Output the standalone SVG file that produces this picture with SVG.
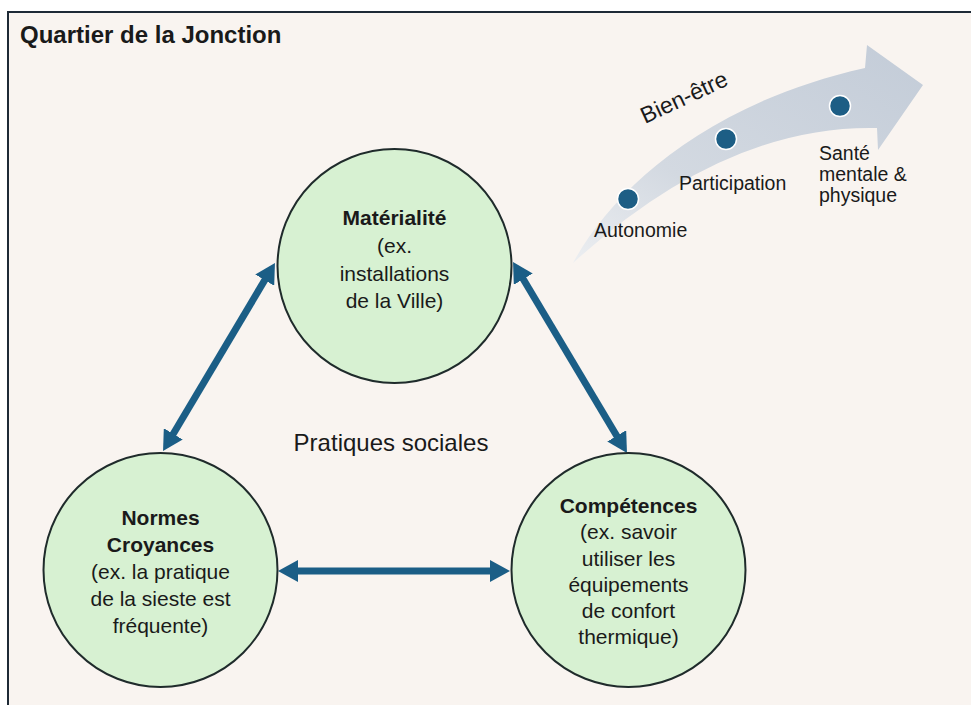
<svg xmlns="http://www.w3.org/2000/svg" width="971" height="705" viewBox="0 0 971 705">
  <style>
    .node { fill: #d7f1d2; stroke: #1f2b2b; stroke-width: 2; }
    .t { font-family: "Liberation Sans", Arial, sans-serif; fill: #1a1a1a; text-anchor: middle; }
    .nt { font-size: 21px; }
    .b { font-weight: bold; }
    .conn { stroke: #1b5e86; stroke-width: 7; fill: none; marker-start: url(#ah); marker-end: url(#ah); }
    .dot { fill: #1d5e85; stroke: #ffffff; stroke-width: 1.5; }
    .st { font-family: "Liberation Sans", Arial, sans-serif; fill: #1a1a1a; font-size: 19.5px; }
  </style>
  <defs>
    <marker id="ah" viewBox="0 0 20 22" markerWidth="20" markerHeight="22" refX="6" refY="11" orient="auto-start-reverse" markerUnits="userSpaceOnUse">
      <path d="M0,0 L20,11 L0,22 z" fill="#1b5e86"/>
    </marker>
    <linearGradient id="band" x1="0" y1="1" x2="1" y2="0">
      <stop offset="0" stop-color="#eceef1"/>
      <stop offset="0.35" stop-color="#d3d9e1"/>
      <stop offset="1" stop-color="#c3ccd8"/>
    </linearGradient>
  </defs>
  <rect x="0" y="0" width="971" height="705" fill="#ffffff"/>
  <rect id="frame" x="8" y="12" width="990" height="730" fill="#f9f4f0" stroke="#1e2a36" stroke-width="2"/>
  <text class="t b" x="20" y="43" style="text-anchor:start;font-size:24px">Quartier de la Jonction</text>

  <g id="bien-etre">
    <path d="M573,263 C610,195 700,105 865,68 L867,45 L923,85 L878,150 L877,128 Q725,124.5 573,263 Z" fill="url(#band)"/>
    <text class="st" x="0" y="0" style="font-size:23px" transform="translate(645,124) rotate(-25)">Bien-être</text>
    <circle class="dot" cx="628" cy="199" r="10.5"/>
    <circle class="dot" cx="726" cy="139" r="10.5"/>
    <circle class="dot" cx="840" cy="106" r="10.5"/>
    <text class="st" x="594" y="237">Autonomie</text>
    <text class="st" x="679" y="190">Participation</text>
    <text class="st" x="819" y="160">Santé</text>
    <text class="st" x="819" y="181">mentale &amp;</text>
    <text class="st" x="819" y="202">physique</text>
  </g>

  <g id="connectors">
    <line class="conn" x1="170.2" y1="439" x2="267.8" y2="275"/>
    <line class="conn" x1="520.2" y1="274" x2="619.8" y2="441"/>
    <line class="conn" x1="292" y1="571" x2="496" y2="571"/>
  </g>

  <g id="materialite">
    <circle class="node" cx="394.5" cy="266" r="117"/>
    <text class="t nt b" x="394.5" y="225">Matérialité</text>
    <text class="t nt" x="394.5" y="253">(ex.</text>
    <text class="t nt" x="394.5" y="281">installations</text>
    <text class="t nt" x="394.5" y="308">de la Ville)</text>
  </g>

  <g id="normes">
    <circle class="node" cx="160.5" cy="570" r="117"/>
    <text class="t nt b" x="160.5" y="525">Normes</text>
    <text class="t nt b" x="160.5" y="552">Croyances</text>
    <text class="t nt" x="160.5" y="579">(ex. la pratique</text>
    <text class="t nt" x="160.5" y="606">de la sieste est</text>
    <text class="t nt" x="160.5" y="633">fréquente)</text>
  </g>

  <g id="competences">
    <circle class="node" cx="628.5" cy="570" r="117"/>
    <text class="t nt b" x="628.5" y="513">Compétences</text>
    <text class="t nt" x="628.5" y="539">(ex. savoir</text>
    <text class="t nt" x="628.5" y="566">utiliser les</text>
    <text class="t nt" x="628.5" y="592">équipements</text>
    <text class="t nt" x="628.5" y="618">de confort</text>
    <text class="t nt" x="628.5" y="644">thermique)</text>
  </g>

  <text class="t" x="391" y="451" style="font-size:24px">Pratiques sociales</text>
</svg>
